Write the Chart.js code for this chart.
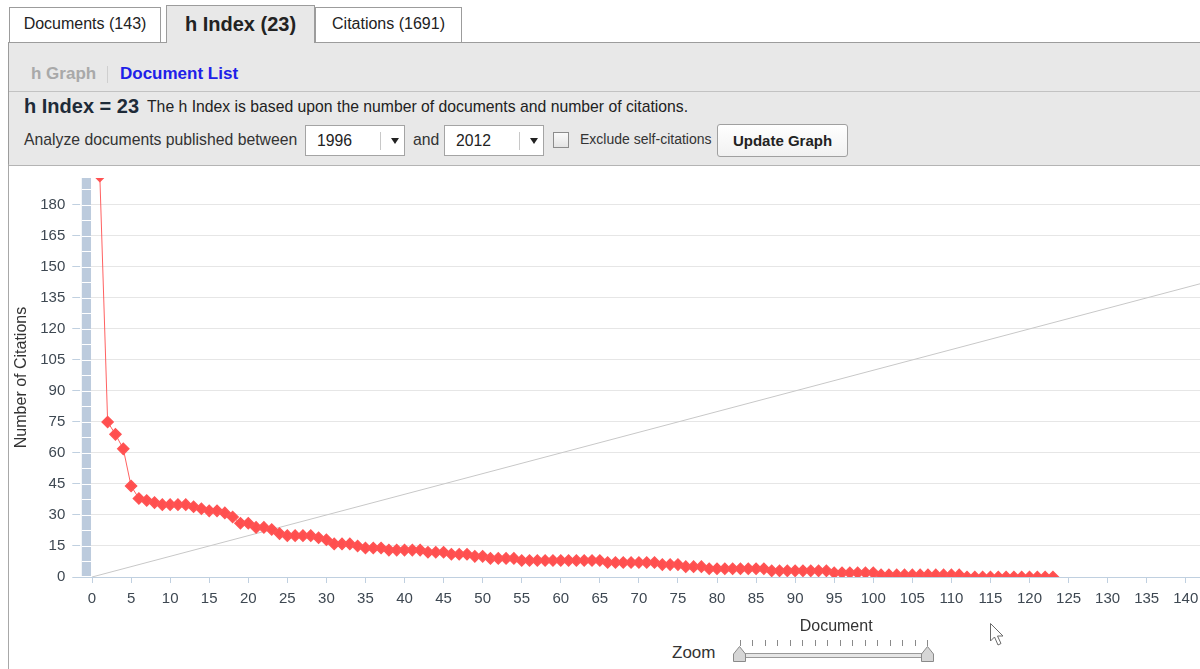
<!DOCTYPE html>
<html>
<head>
<meta charset="utf-8">
<title>h Index</title>
<script src="https://cdn.jsdelivr.net/npm/chart.js@4.4.0/dist/chart.umd.min.js"></script>
<style>
  body {
    margin: 0;
    width: 1200px;
    height: 669px;
    overflow: hidden;
    position: relative;
    background: #fff;
    font-family: "Liberation Sans", Arial, sans-serif;
    color: #222;
  }
  .abs { position: absolute; white-space: nowrap; }
  .tab {
    position: absolute;
    top: 7px;
    height: 35px;
    line-height: 32px;
    background: #fff;
    border: 1px solid #9c9c9c;
    border-bottom: none;
    text-align: center;
    font-size: 16px;
    color: #222;
    box-sizing: border-box;
  }
  .tab.active {
    top: 5px;
    height: 38px;
    line-height: 37px;
    background: #e8e8e8;
    font-weight: bold;
    font-size: 20px;
    z-index: 2;
  }
  #panel {
    position: absolute;
    left: 8px;
    top: 42px;
    width: 1400px;
    height: 122px;
    background: #e8e8e8;
    border-top: 1px solid #9c9c9c;
    border-left: 1px solid #9c9c9c;
    border-bottom: 1px solid #b4b4b4;
  }
  .select {
    position: absolute;
    top: 125px;
    width: 100px;
    height: 31px;
    box-sizing: border-box;
    background: #fff;
    border: 1px solid #a4a4a4;
    font-size: 15.75px;
    line-height: 29px;
  }
  .select span.v { position: absolute; left: 11px; }
  .select span.d { position: absolute; left: 74px; top: 6px; height: 18px; border-left: 1px solid #c8c8c8; }
  .select span.a {
    position: absolute; left: 85px; top: 12px;
    border-left: 4px solid transparent; border-right: 4px solid transparent; border-top: 6px solid #222;
  }
  #btn {
    position: absolute;
    left: 717px; top: 124px; width: 131px; height: 33px;
    box-sizing: border-box;
    border: 1px solid #a0a0a0;
    border-radius: 3px;
    background: linear-gradient(#ffffff, #f1f1f1);
    font-weight: bold; font-size: 15px; line-height: 31px; text-align: center; color: #222;
  }
  #leftline { position: absolute; left: 8px; top: 164px; width: 1px; height: 505px; background: #a8a8a8; }
  #wrap { position: absolute; left: 10px; top: 162px; width: 1600px; height: 479px; }
</style>
</head>
<body>

<div id="panel"></div>
<div class="tab" style="left:9px;width:152px;">Documents (143)</div>
<div class="tab active" style="left:166px;width:149px;">h Index (23)</div>
<div class="tab" style="left:315px;width:147px;">Citations (1691)</div>

<div class="abs" style="left:31px;top:64px;font-size:17px;font-weight:bold;color:#a9a9a9;">h Graph</div>
<div class="abs" style="left:107px;top:66px;width:1px;height:17px;background:#cfcfcf;"></div>
<div class="abs" style="left:120px;top:64px;font-size:17px;font-weight:bold;color:#2020e8;">Document List</div>
<div class="abs" style="left:9px;top:91px;width:1400px;height:1px;background:#c2c2c2;"></div>

<div class="abs" style="left:24px;top:95px;font-size:20px;font-weight:bold;color:#1e2b38;">h Index = 23</div>
<div class="abs" style="left:147px;top:98px;font-size:15.75px;color:#222;">The h Index is based upon the number of documents and number of citations.</div>

<div class="abs" style="left:24px;top:131px;font-size:15.75px;color:#333;">Analyze documents published between</div>
<div class="select" style="left:305px;"><span class="v">1996</span><span class="d"></span><span class="a"></span></div>
<div class="abs" style="left:413px;top:131px;font-size:15.75px;color:#333;">and</div>
<div class="select" style="left:444px;"><span class="v">2012</span><span class="d"></span><span class="a"></span></div>
<div class="abs" style="left:553px;top:132px;width:16px;height:16px;box-sizing:border-box;border:1px solid #8c8c8c;background:linear-gradient(#fafafa,#e4e4e4);"></div>
<div class="abs" style="left:580px;top:131px;font-size:14px;color:#333;">Exclude self-citations</div>
<div id="btn">Update Graph</div>

<div id="leftline"></div>
<div id="wrap"><canvas id="hchart"></canvas></div>

<div class="abs" style="left:672px;top:643px;font-size:17px;color:#333;">Zoom</div>
<svg class="abs" style="left:0;top:0;" width="1200" height="669">
  <g id="zoomTicks" stroke="#8a8a8a" stroke-width="1"></g>
  <rect x="738" y="653.5" width="190" height="4" fill="#e6e6e6" stroke="#999" stroke-width="1"/>
  <path d="M733.5 661.5 L733.5 654 L739.5 646.5 L745.5 654 L745.5 661.5 Z" fill="#d6d6d6" stroke="#8a8a8a"/>
  <path d="M921.5 661.5 L921.5 654 L927.5 646.5 L933.5 654 L933.5 661.5 Z" fill="#d6d6d6" stroke="#8a8a8a"/>
  <path d="M990.5 623.5 L990.5 641 L994.5 637 L998 645 L1001 643.5 L997.5 636 L1003 636 Z" fill="#fff" stroke="#6a6a6a" stroke-width="1"/>
</svg>

<script>
// citations per document, sorted high to low (documents with citations)
const citations = [
  194, 75, 69, 62, 44, 38, 37, 36, 35, 35,
  35, 35, 34, 33, 32, 32, 31, 29, 26, 26,
  24, 24, 23, 21, 20, 20, 20, 20, 19, 18,
  16, 16, 16, 15, 14, 14, 14, 13, 13, 13,
  13, 13, 12, 12, 12, 11, 11, 11, 10, 10,
  9, 9, 9, 9, 8, 8, 8, 8, 8, 8,
  8, 8, 8, 8, 8, 7, 7, 7, 7, 7,
  7, 7, 6, 6, 6, 5, 5, 5, 4, 4,
  4, 4, 4, 4, 4, 4, 3, 3, 3, 3,
  3, 3, 3, 3, 2, 2, 2, 2, 2, 2,
  1, 1, 1, 1, 1, 1, 1, 1, 1, 1,
  1, 0, 0, 0, 0, 0, 0, 0, 0, 0,
  0, 0, 0
];
const docs = citations.map((c, i) => i + 1);
const xMin = -1.5, xMax = 192;
const yMax = 193;
const xStep = 5, yStep = 15;
const hLine = [0, xMax];   // citations = document rank

// slider tick marks under the chart
const zt = document.getElementById('zoomTicks');
for (let i = 0; i < 16; i++) {
  const x = Math.round(740 + i * 12.47) + 0.5;
  const l = document.createElementNS('http://www.w3.org/2000/svg', 'line');
  l.setAttribute('x1', x); l.setAttribute('x2', x);
  l.setAttribute('y1', 640); l.setAttribute('y2', 646);
  zt.appendChild(l);
}

function stepTicks(step) {
  return s => {
    const t = [];
    for (let v = 0; v <= s.max; v += step) t.push({ value: v });
    s.ticks = t;
  };
}

// blue strip on the left of the plot
const sideBar = {
  id: 'sideBar',
  beforeDatasetsDraw(chart) {
    const { ctx, chartArea, scales } = chart;
    const x0 = chartArea.left;
    const x1 = scales.x.getPixelForValue(0) - 1;
    const h = chartArea.bottom - chartArea.top - 1;
    ctx.save();
    ctx.fillStyle = '#fff';
    ctx.fillRect(x0, chartArea.top, x1 - x0, h);
    ctx.fillStyle = '#bccbdd';
    ctx.fillRect(x0 + 1.5, chartArea.top, x1 - x0 - 1.5, h);
    ctx.strokeStyle = '#fff';
    ctx.lineWidth = 1;
    for (let v = yStep / 2; v < scales.y.max; v += yStep / 2) {
      const py = Math.round(scales.y.getPixelForValue(v)) + 0.5;
      ctx.beginPath();
      ctx.moveTo(x0 + 1.5, py);
      ctx.lineTo(x1, py);
      ctx.stroke();
    }
    ctx.restore();
  }
};

const tickFont = { family: '"Liberation Sans", Arial, sans-serif', size: 15 };
const titleFont = { family: '"Liberation Sans", Arial, sans-serif', size: 16 };

new Chart(document.getElementById('hchart'), {
  type: 'line',
  data: {
    datasets: [
      {
        data: docs.map((d, i) => ({ x: d, y: citations[i] })),
        borderColor: 'rgba(255, 80, 80, 0.9)',
        borderWidth: 1,
        backgroundColor: '#ff4f4f',
        pointStyle: 'rectRot',
        pointRadius: 5.5,
        pointBorderWidth: 1.5,
        pointBorderColor: '#ff5454',
        pointBackgroundColor: '#ff4f4f',
        tension: 0
      },
      {
        data: hLine.map(v => ({ x: v, y: v })),
        borderColor: '#c8c8c8',
        borderWidth: 1,
        pointRadius: 0,
        tension: 0
      }
    ]
  },
  options: {
    responsive: true,
    maintainAspectRatio: false,
    animation: false,
    layout: { padding: { top: 7, right: 18, left: 0, bottom: 0 } },
    plugins: { legend: { display: false }, tooltip: { enabled: false } },
    scales: {
      x: {
        type: 'linear',
        min: xMin,
        max: xMax,
        afterBuildTicks: stepTicks(xStep),
        afterFit: s => { s.height = 64; },
        ticks: { font: tickFont, color: '#3e4852', padding: 7, maxRotation: 0 },
        grid: { drawOnChartArea: false, drawTicks: true, tickLength: 6, tickColor: '#c0d0e0', color: '#c0d0e0' },
        border: { color: '#c0d0e0', width: 1 },
        title: { display: true, text: 'Document', font: titleFont, color: '#333', padding: { top: 0, bottom: 5 } }
      },
      y: {
        min: 0,
        max: yMax,
        afterBuildTicks: stepTicks(yStep),
        afterFit: s => { s.width = 70.3; },
        ticks: { font: tickFont, color: '#3e4852', padding: 7 },
        grid: {
          color: c => (c.tick && c.tick.value === 0 ? '#c0d0e0' : '#e6e6e6'),
          tickColor: '#c0d0e0',
          tickLength: 8
        },
        border: { display: false },
        title: { display: true, text: 'Number of Citations', font: titleFont, color: '#333', padding: { top: 2, bottom: 0 } }
      }
    }
  },
  plugins: [sideBar]
});
</script>
</body>
</html>
